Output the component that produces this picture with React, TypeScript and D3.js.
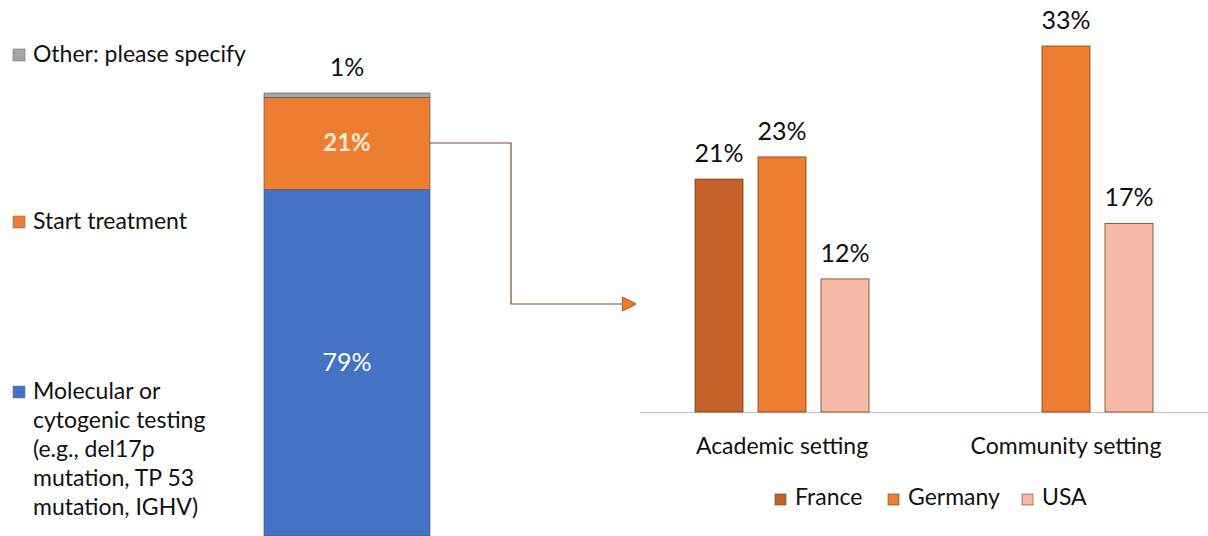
import React from "react";
import * as d3 from "d3";

const stackCategories = ["Molecular or cytogenic testing (e.g., del17p mutation, TP 53 mutation, IGHV)", "Start treatment", "Other: please specify"];
const stackValues = [79, 21, 1];
const stackColors = ["#4472C4", "#ED7D31", "#A5A5A5"];
const stackLabelColors = ["#ffffff", "#FDE9D0", "#000000"];

const legendLeftLines = [
  ["Other: please specify"],
  ["Start treatment"],
  ["Molecular or", "cytogenic testing", "(e.g., del17p", "mutation, TP 53", "mutation, IGHV)"],
];

const settings = ["Academic setting", "Community setting"];
const countries = ["France", "Germany", "USA"];
const countryColors = ["#C5622A", "#ED7D31", "#F4B9A7"];
const values: (number | null)[][] = [
  [21, 23, 12],
  [null, 33, 17],
];

const FONT = "Lato, 'Open Sans', sans-serif";

export default function App() {
  const W = 1208, H = 536;

  const sy = d3.scaleLinear().domain([0, 101]).range([536, 93]);
  const sx0 = 264, sx1 = 430;
  let cum = 0;
  const segs = stackValues.map((v, i) => {
    const s = { v, y0: sy(cum + v), y1: sy(cum), c: stackColors[i], lc: stackLabelColors[i] };
    cum += v;
    return s;
  });

  const x0 = d3.scaleBand().domain(settings).range([640, 1208]).paddingInner(0).paddingOuter(0);
  const x1 = d3.scaleBand().domain(countries).range([-87, 87]).paddingInner(0.238).paddingOuter(0);
  const y = d3.scaleLinear().domain([0, 33]).range([412, 46]);

  const legendY = [62, 229, 399];
  const legendX = [775, 888, 1022];

  return (
    <svg width={W} height={H} style={{ position: "absolute", left: 0, top: 0, background: "#fff" }} fontFamily={FONT}>
      <defs>
        <marker id="arr" viewBox="0 0 10 10" refX="9" refY="5" markerWidth="14" markerHeight="14" markerUnits="userSpaceOnUse" orient="auto">
          <path d="M0,0 L10,5 L0,10 Z" fill="#ED7D31" stroke="#B85A1E" strokeWidth="0.8" />
        </marker>
      </defs>
      {legendLeftLines.map((lines, i) => (
        <g key={i}>
          <rect x={13} y={legendY[i] - 13} width={12} height={12} fill={stackColors[2 - i]} stroke="#777" strokeWidth={0.6} />
          {lines.map((t, j) => (
            <text key={j} x={33} y={legendY[i] + j * 29} fontSize={23} fill="#111">{t}</text>
          ))}
        </g>
      ))}
      {segs.map((s, i) => (
        <rect key={i} x={sx0} y={s.y0} width={sx1 - sx0} height={s.y1 - s.y0} fill={s.c} stroke="#44546A" strokeWidth={0.6} />
      ))}
      <text x={(sx0 + sx1) / 2} y={371} textAnchor="middle" fontSize={25} fill={segs[0].lc}>{stackValues[0]}%</text>
      <text x={(sx0 + sx1) / 2} y={(segs[1].y0 + segs[1].y1) / 2 + 8} textAnchor="middle" fontSize={24} fontWeight="bold" fill={segs[1].lc}>{stackValues[1]}%</text>
      <text x={(sx0 + sx1) / 2} y={76} textAnchor="middle" fontSize={25} fill="#111">{stackValues[2]}%</text>
      <path d={`M${sx1},143 H511 V304 H635`} fill="none" stroke="#7A4A2A" strokeWidth={1.2} markerEnd="url(#arr)" />
      <line x1={640} x2={1208} y1={412.5} y2={412.5} stroke="#C8CDD3" strokeWidth={1.5} />
      {settings.map((s, gi) => {
        const cx = (x0(s) as number) + x0.bandwidth() / 2;
        return (
          <g key={s}>
            {countries.map((c, ci) => {
              const v = values[gi][ci];
              if (v == null) return null;
              const bx = cx + (x1(c) as number);
              return (
                <g key={c}>
                  <rect x={bx} y={y(v)} width={x1.bandwidth()} height={412 - y(v)} fill={countryColors[ci]} stroke="#7A3E14" strokeWidth={0.8} />
                  <text x={bx + x1.bandwidth() / 2} y={y(v) - 17} textAnchor="middle" fontSize={25} fill="#111">{v}%</text>
                </g>
              );
            })}
            <text x={cx} y={454} textAnchor="middle" fontSize={23} fill="#111">{s}</text>
          </g>
        );
      })}
      {countries.map((c, i) => (
        <g key={c}>
          <rect x={legendX[i]} y={494} width={11} height={11} fill={countryColors[i]} stroke="#7A3E14" strokeWidth={0.6} />
          <text x={legendX[i] + 20} y={505} fontSize={23} fill="#111">{c}</text>
        </g>
      ))}
    </svg>
  );
}
